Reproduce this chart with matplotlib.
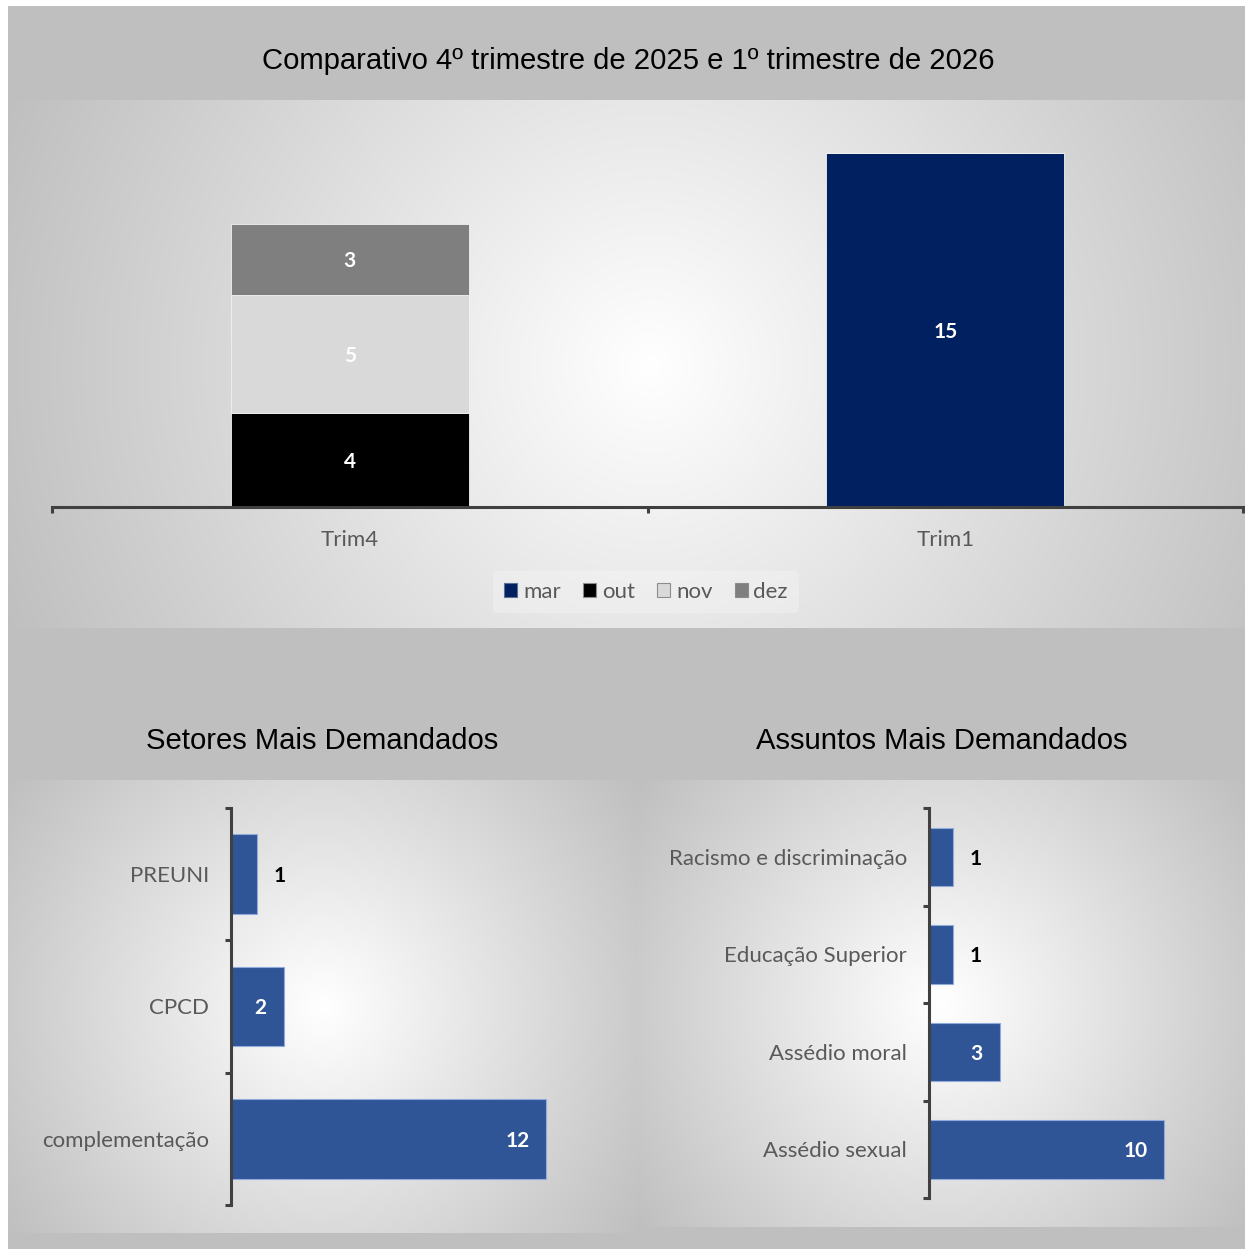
import numpy as np
import matplotlib
matplotlib.use("Agg")
import matplotlib.pyplot as plt
from matplotlib.patches import Rectangle, Patch

# ---- data ----
quarters = ["Trim4", "Trim1"]
months = ["mar", "out", "nov", "dez"]
month_values = {
    "mar": [0, 15],
    "out": [4, 0],
    "nov": [5, 0],
    "dez": [3, 0],
}
month_colors = {"mar": "#002060", "out": "#000000", "nov": "#d9d9d9", "dez": "#7f7f7f"}

setores = ["PREUNI", "CPCD", "complementação"]
setores_values = [1, 2, 12]

assuntos = ["Racismo e discriminação", "Educação Superior", "Assédio moral", "Assédio sexual"]
assuntos_values = [1, 1, 3, 10]

W, H = 1245, 1249
LABEL_FONT = ["Lato", "DejaVu Sans"]
TITLE_FONT = ["Liberation Sans", "DejaVu Sans"]
AXIS_GRAY = "#404040"
TEXT_GRAY = "#595959"
BAR_BLUE = "#2f5597"
LABEL_SIZE = 16
VALUE_SIZE = 15

fig = plt.figure(figsize=(W / 100, H / 100), dpi=100)
fig.patch.set_facecolor("white")


def box(x0, y0, x1, y1):
    """Pixel box (top-left origin) to figure fraction rect."""
    return [x0 / W, 1 - y1 / H, (x1 - x0) / W, (y1 - y0) / H]


# outer gray card
fig.patches.append(Rectangle((8 / W, 0), (W - 8) / W, (H - 6) / H,
                             transform=fig.transFigure, facecolor="#bfbfbf",
                             edgecolor="none", zorder=-10))


def gradient_panel(x0, y0, x1, y1, cx=None, cy=None):
    ax = fig.add_axes(box(x0, y0, x1, y1), zorder=-5)
    ax.set_axis_off()
    w, h = x1 - x0, y1 - y0
    cx = w / 2 if cx is None else cx - x0
    cy = h / 2 if cy is None else cy - y0
    yy, xx = np.mgrid[0:h, 0:w]
    d = np.hypot(xx - cx, yy - cy)
    r = np.hypot(max(cx, w - cx), max(cy, h - cy))
    t = np.clip(d / r, 0, 1)
    v = 1.0 - t * (1.0 - 0.75)
    img = np.dstack([v, v, v])
    ax.imshow(img, aspect="auto", extent=(0, w, h, 0), interpolation="bilinear")
    ax.set_xlim(0, w)
    ax.set_ylim(h, 0)
    return ax


gradient_panel(8, 100, 1245, 628, cx=650, cy=365)
gradient_panel(8, 780, 637, 1233)
gradient_panel(637, 780, 1245, 1227)

# ---- titles ----
fig.text(628 / W, 1 - 61 / H, "Comparativo 4º trimestre de 2025 e 1º trimestre de 2026",
         ha="center", va="center", fontsize=21.1, family=TITLE_FONT, color="#000000")
fig.text(322 / W, 1 - 741 / H, "Setores Mais Demandados",
         ha="center", va="center", fontsize=21.1, family=TITLE_FONT, color="#000000")
fig.text(942 / W, 1 - 741 / H, "Assuntos Mais Demandados",
         ha="center", va="center", fontsize=21.1, family=TITLE_FONT, color="#000000")

# ---- top: stacked quarterly columns ----
ax = fig.add_axes(box(52, 129.4, 1243, 507))
ax.patch.set_alpha(0)
x = np.arange(len(quarters))
bottom = np.zeros(len(quarters))
for m in ["mar", "out", "nov", "dez"]:
    vals = np.array(month_values[m], dtype=float)
    bars = ax.bar(x, vals, width=0.4, bottom=bottom, color=month_colors[m],
                  edgecolor="#f2f2f2", linewidth=0.6, label=m)
    for b, v, b0 in zip(bars, vals, bottom):
        if v > 0:
            ax.text(b.get_x() + b.get_width() / 2, b0 + v / 2, f"{int(v)}",
                    ha="center", va="center_baseline", color="white", fontsize=VALUE_SIZE,
                    fontweight="bold", family=LABEL_FONT)
    bottom += vals

ax.set_xlim(-0.5, 1.5)
ax.set_ylim(0, 16)
for s in ["top", "right", "left"]:
    ax.spines[s].set_visible(False)
ax.spines["bottom"].set_color(AXIS_GRAY)
ax.spines["bottom"].set_linewidth(2.2)
ax.set_yticks([])
ax.set_xticks([-0.5, 0.5, 1.5])
ax.set_xticklabels([])
ax.tick_params(axis="x", which="major", direction="out", length=4.5, width=2.2,
               color=AXIS_GRAY)
ax.set_xticks(x, minor=True)
ax.set_xticklabels(quarters, minor=True)
ax.tick_params(axis="x", which="minor", length=0, pad=16.5, labelsize=LABEL_SIZE,
               labelcolor=TEXT_GRAY)
for lbl in ax.get_xticklabels(minor=True):
    lbl.set_family(LABEL_FONT)

handles = [Patch(facecolor=month_colors[m], edgecolor="#8c8c8c" if m != "mar" else "#5a6e9a",
                 linewidth=0.8) for m in months]
leg = fig.legend(handles, months, loc="center", bbox_to_anchor=(646 / W, 1 - 592 / H),
                 ncol=4, frameon=True, handlelength=0.6, handleheight=0.6,
                 handletextpad=0.25, columnspacing=1.0, borderpad=0.5,
                 prop={"family": LABEL_FONT, "size": LABEL_SIZE})
leg.get_frame().set_facecolor("#f4f4f4")
leg.get_frame().set_alpha(0.45)
leg.get_frame().set_edgecolor("none")
for t in leg.get_texts():
    t.set_color(TEXT_GRAY)


# ---- bottom: horizontal bar charts ----
def hbar_panel(rect, cats, vals, xmax):
    a = fig.add_axes(rect)
    a.patch.set_alpha(0)
    y = np.arange(len(cats))
    bars = a.barh(y, vals, height=0.6, color=BAR_BLUE, edgecolor="#8faadc", linewidth=0.8)
    a.set_xlim(0, xmax)
    a.set_ylim(len(cats) - 0.5, -0.5)
    for b, v in zip(bars, vals):
        cy = b.get_y() + b.get_height() / 2
        if v >= 2:
            a.annotate(f"{v}", (v, cy), xytext=(-12, 0), textcoords="offset points",
                       ha="right", va="center_baseline", color="white", fontsize=VALUE_SIZE,
                       fontweight="bold", family=LABEL_FONT)
        else:
            a.annotate(f"{v}", (v, cy), xytext=(12, 0), textcoords="offset points",
                       ha="left", va="center_baseline", color="black", fontsize=VALUE_SIZE,
                       fontweight="bold", family=LABEL_FONT)
    for s in ["top", "right", "bottom"]:
        a.spines[s].set_visible(False)
    a.spines["left"].set_color(AXIS_GRAY)
    a.spines["left"].set_linewidth(2.2)
    a.set_xticks([])
    a.set_yticks(np.arange(len(cats) + 1) - 0.5)
    a.set_yticklabels([])
    a.tick_params(axis="y", which="major", direction="out", length=4.5, width=2.2,
                  color=AXIS_GRAY)
    a.set_yticks(y, minor=True)
    a.set_yticklabels(cats, minor=True)
    a.tick_params(axis="y", which="minor", length=0, pad=16, labelsize=LABEL_SIZE,
                  labelcolor=TEXT_GRAY)
    for lbl in a.get_yticklabels(minor=True):
        lbl.set_family(LABEL_FONT)
    return a


hbar_panel(box(231, 808, 231 + 15 * 26.25, 1205), setores, setores_values, 15)
hbar_panel(box(929, 808, 929 + 13 * 23.5, 1198), assuntos, assuntos_values, 13)

fig.savefig("out.png", dpi=100, facecolor=fig.get_facecolor())
